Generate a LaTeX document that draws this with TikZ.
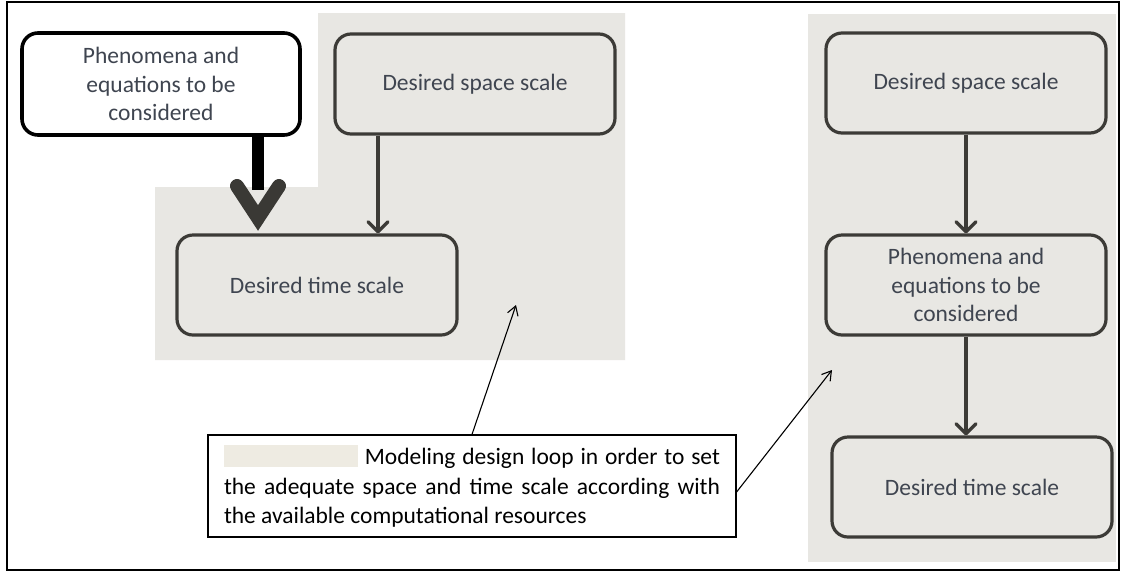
\documentclass[tikz,border=0pt]{standalone}
\usepackage{fontspec}
\setmainfont{Carlito}
\usetikzlibrary{arrows.meta}
\definecolor{bggrey}{HTML}{E8E7E3}
\definecolor{edge}{HTML}{3C3B37}
\definecolor{headgrey}{HTML}{3A3935}
\definecolor{txt}{HTML}{3F4550}
\definecolor{swatch}{HTML}{EEEBE2}
\begin{document}
\begin{tikzpicture}[x=1pt,y=-1pt,
  box/.style={draw=edge, line width=3.2pt, rounded corners=16pt, fill=bggrey,
    minimum width=280pt, minimum height=100pt, align=center, text=txt,
    font=\fontsize{23.5}{28.5}\selectfont, inner sep=0pt},
  flow/.style={draw=edge, line width=3.4pt, -{Straight Barb[length=10pt,width=20pt,round]}},
  pointer/.style={draw=black, line width=1.1pt, -{Straight Barb[length=9pt,width=11pt]}},
  thickshaft/.style={draw=black, line width=12pt},
  thickhead/.style={draw=headgrey, line width=14pt, line cap=round, line join=miter}]
\useasboundingbox (0,0) rectangle (1123,574);
\fill[white] (0,0) rectangle (1123,574);
% grey loop regions
\fill[bggrey] (318,13) -- (625,13) -- (625,360) -- (155,360) -- (155,187) -- (318,187) -- cycle;
\fill[bggrey] (808,14) rectangle (1116,562);
% outer frame
\draw[line width=2.5pt] (7,2) rectangle (1119,570);

% left group
\node[box, draw=black, fill=white, line width=3.6pt, minimum width=278pt, minimum height=102pt] (p1) at (161,84) {Phenomena and\\equations to be\\considered};
\node[box] (s1) at (475,84) {\raisebox{-2pt}{Desired space scale}};
\node[box] (t1) at (317,285) {\raisebox{-2pt}{Desired time scale}};

% right group
\node[box] (s2) at (966,83) {\raisebox{-2pt}{Desired space scale}};
\node[box] (p2) at (966,285) {Phenomena and\\equations to be\\considered};
\node[box] (t2) at (972,487) {\raisebox{-2pt}{Desired time scale}};

% legend box
\node[draw=black, line width=1.2pt, fill=white, inner sep=0pt, minimum width=528pt, minimum height=102pt] (tb) at (472,486)
 {\begin{minipage}{496pt}\fontsize{23.5}{29.5}\selectfont
 {\color{swatch}\rule[-2pt]{134pt}{22pt}} Modeling design loop in order to set\linebreak
 the adequate space and time scale according with\linebreak
 the available computational resources\end{minipage}};

% connectors
\coordinate (a1) at (378,0);
\draw[flow] (s1.south -| a1) -- (t1.north -| a1);
\draw[flow] (s2.south) -- (p2.north);
\draw[flow] (p2.south) -- (p2.south |- t2.north);

\coordinate (a0) at (258,0);
\coordinate (tip) at (258,218);
\draw[thickshaft] (p1.south -| a0) -- (tip |- 0,190);
\draw[thickhead] ([shift={(-21,-32)}]tip) -- (tip) -- ([shift={(21,-32)}]tip);

\coordinate (q1) at (516,305);
\coordinate (q2) at (832,370);
\draw[pointer] (tb.north) -- (q1);
\draw[pointer] ([yshift=-6pt]tb.east) -- (q2);
\end{tikzpicture}
\end{document}
